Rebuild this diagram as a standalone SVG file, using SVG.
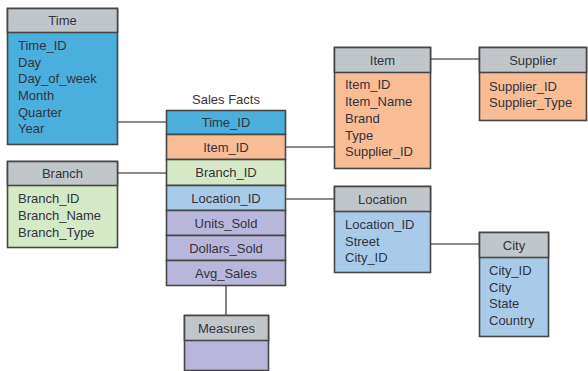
<svg xmlns="http://www.w3.org/2000/svg" width="588" height="371" viewBox="0 0 588 371">
  <style>
    text { font-family: "Liberation Sans", "DejaVu Sans", sans-serif; font-size: 13px; fill: #33333d; }
    .hd { text-anchor: middle; }
    .box { stroke: #454545; stroke-width: 1.6; }
    .head { fill: #c1c6ca; }
    .blue { fill: #4bafdd; }
    .orange { fill: #f9bd96; }
    .green { fill: #d6e9c6; }
    .lblue { fill: #a9cbea; }
    .purple { fill: #b9b6dc; }
    .link { stroke: #666; stroke-width: 1.6; fill: none; }
  </style>

  <g id="connectors">
    <line class="link" x1="118" y1="122" x2="166" y2="122"/>
    <line class="link" x1="118" y1="173" x2="166" y2="173"/>
    <line class="link" x1="286" y1="147" x2="334" y2="147"/>
    <line class="link" x1="286" y1="199" x2="334" y2="199"/>
    <line class="link" x1="431" y1="59" x2="479" y2="59"/>
    <line class="link" x1="431" y1="244" x2="479" y2="244"/>
    <line class="link" x1="226" y1="286" x2="226" y2="315"/>
  </g>

  <g id="time">
    <rect class="box blue" x="7.5" y="8.5" width="110" height="136"/>
    <rect class="box head" x="7.5" y="8.5" width="110" height="24"/>
    <text class="hd" x="62.5" y="25">Time</text>
    <text x="18" y="50">Time_ID</text>
    <text x="18" y="66.5">Day</text>
    <text x="18" y="83">Day_of_week</text>
    <text x="18" y="100">Month</text>
    <text x="18" y="116.5">Quarter</text>
    <text x="18" y="133">Year</text>
  </g>

  <g id="branch">
    <rect class="box green" x="7.5" y="161.5" width="110" height="86"/>
    <rect class="box head" x="7.5" y="161.5" width="110" height="24"/>
    <text class="hd" x="62.5" y="178">Branch</text>
    <text x="18" y="202.5">Branch_ID</text>
    <text x="18" y="219.5">Branch_Name</text>
    <text x="18" y="236.5">Branch_Type</text>
  </g>

  <g id="sales-facts">
    <text class="hd" x="226" y="104">Sales Facts</text>
    <rect class="box blue" x="166.5" y="110.5" width="119" height="24"/>
    <rect class="box orange" x="166.5" y="134.5" width="119" height="25"/>
    <rect class="box green" x="166.5" y="159.5" width="119" height="26"/>
    <rect class="box lblue" x="166.5" y="185.5" width="119" height="25"/>
    <rect class="box purple" x="166.5" y="210.5" width="119" height="25"/>
    <rect class="box purple" x="166.5" y="235.5" width="119" height="25"/>
    <rect class="box purple" x="166.5" y="260.5" width="119" height="25"/>
    <text class="hd" x="226" y="127">Time_ID</text>
    <text class="hd" x="226" y="151.5">Item_ID</text>
    <text class="hd" x="226" y="177">Branch_ID</text>
    <text class="hd" x="226" y="202.5">Location_ID</text>
    <text class="hd" x="226" y="227.5">Units_Sold</text>
    <text class="hd" x="226" y="252.5">Dollars_Sold</text>
    <text class="hd" x="226" y="277.5">Avg_Sales</text>
  </g>

  <g id="measures">
    <rect class="box purple" x="184.5" y="315.5" width="84" height="55"/>
    <rect class="box head" x="184.5" y="315.5" width="84" height="25"/>
    <text class="hd" x="226.5" y="332.5">Measures</text>
  </g>

  <g id="item">
    <rect class="box orange" x="334.5" y="47.5" width="96" height="121"/>
    <rect class="box head" x="334.5" y="47.5" width="96" height="25"/>
    <text class="hd" x="382.5" y="64.5">Item</text>
    <text x="345" y="89">Item_ID</text>
    <text x="345" y="106">Item_Name</text>
    <text x="345" y="123">Brand</text>
    <text x="345" y="140">Type</text>
    <text x="345" y="156">Supplier_ID</text>
  </g>

  <g id="supplier">
    <rect class="box orange" x="479.5" y="47.5" width="107" height="73"/>
    <rect class="box head" x="479.5" y="47.5" width="107" height="25"/>
    <text class="hd" x="533" y="64.5">Supplier</text>
    <text x="489" y="90.5">Supplier_ID</text>
    <text x="489" y="106.5">Supplier_Type</text>
  </g>

  <g id="location">
    <rect class="box lblue" x="334.5" y="186.5" width="96" height="86"/>
    <rect class="box head" x="334.5" y="186.5" width="96" height="25"/>
    <text class="hd" x="382.5" y="203.5">Location</text>
    <text x="345" y="228.5">Location_ID</text>
    <text x="345" y="246">Street</text>
    <text x="345" y="261.5">City_ID</text>
  </g>

  <g id="city">
    <rect class="box lblue" x="479.5" y="232.5" width="69" height="104"/>
    <rect class="box head" x="479.5" y="232.5" width="69" height="25"/>
    <text class="hd" x="514" y="249.5">City</text>
    <text x="489" y="274.5">City_ID</text>
    <text x="489" y="291.5">City</text>
    <text x="489" y="307.5">State</text>
    <text x="489" y="324.5">Country</text>
  </g>
</svg>
